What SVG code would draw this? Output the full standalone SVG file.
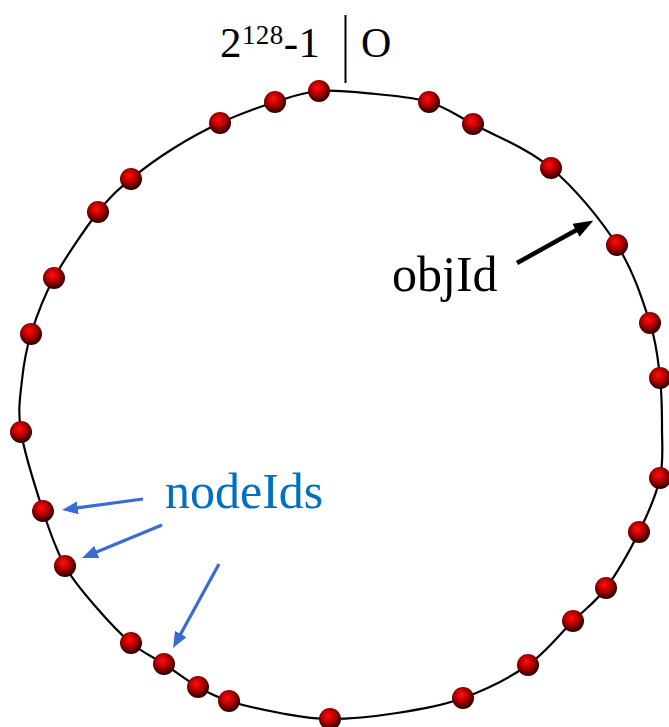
<svg xmlns="http://www.w3.org/2000/svg" width="669" height="727" viewBox="0 0 669 727">
<defs>
<radialGradient id="ballGrad" cx="45%" cy="40%" r="60%" fx="42%" fy="35%">
<stop offset="0" stop-color="#ff1010"/>
<stop offset="0.45" stop-color="#c00000"/>
<stop offset="0.85" stop-color="#500000"/>
<stop offset="1" stop-color="#200000"/>
</radialGradient>
<marker id="headBlue" markerUnits="userSpaceOnUse" markerWidth="16" markerHeight="13" viewBox="0 0 16 13" refX="10" refY="6.5" orient="auto">
<path d="M0,0 L16,6.5 L0,13 z" fill="#3a6ad4"/>
</marker>
<marker id="headBlack" markerUnits="userSpaceOnUse" markerWidth="20" markerHeight="15" viewBox="0 0 20 15" refX="13" refY="7.5" orient="auto">
<path d="M0,0 L20,7.5 L0,15 z" fill="#000"/>
</marker>
</defs>
<style>
.ring{fill:none;stroke:#000;stroke-width:2.2}
.node{fill:url(#ballGrad)}
.lbl{font-family:"Liberation Serif","Times New Roman",serif;fill:#000}
.blue{stroke:#3a6ad4;stroke-width:3.2;fill:none}
.black{stroke:#000;stroke-width:4.5;fill:none}
</style>
<rect width="669" height="727" fill="#fff"/>
<path id="ring" class="ring" d="M319,91 C335.7,89.7 356.7,92.2 375,94 C393.3,95.8 412.7,97 429,102 C445.3,107 452.7,113 473,124 C493.3,135 527,147.8 551,168 C575,188.2 600.5,219.2 617,245 C633.5,270.8 642.8,300.8 650,323 C657.2,345.2 658,360.5 660,378 C662,395.5 662,411.3 662,428 C662,444.7 663.8,460.7 660,478 C656.2,495.3 648,513.7 639,532 C630,550.3 617,573.2 606,588 C595,602.8 586,608.2 573,621 C560,633.8 546.3,652.2 528,665 C509.7,677.8 484.8,690 463,698 C441.2,706 419.2,709.5 397,713 C374.8,716.5 349.5,719 330,719 C310.5,719 296.8,716 280,713 C263.2,710 242.7,705.3 229,701 C215.3,696.7 208.8,693.2 198,687 C187.2,680.8 175.2,671.3 164,664 C152.8,656.7 142.3,652.5 131,643 C119.7,633.5 107,619.8 96,607 C85,594.2 73.8,582 65,566 C56.2,550 50.3,533.5 43,511 C35.7,488.5 24.5,453.8 21,432 C17.5,410.2 20.3,396.3 22,380 C23.7,363.7 25.7,351 31,334 C36.3,317 42.8,298.3 54,278 C65.2,257.7 85.2,228.5 98,212 C110.8,195.5 118.3,189.7 131,179 C143.7,168.3 159.2,157.3 174,148 C188.8,138.7 203.2,130.7 220,123 C236.8,115.3 258.5,107.3 275,102 C291.5,96.7 302.3,92.3 319,91 Z"/>
<g id="connectors">
<line x1="517" y1="263" x2="587.3" y2="224" class="black" marker-end="url(#headBlack)"/>
<line x1="143" y1="499" x2="67.9" y2="509.2" class="blue" marker-end="url(#headBlue)"/>
<line x1="162" y1="525" x2="87.5" y2="555.7" class="blue" marker-end="url(#headBlue)"/>
<line x1="219" y1="564" x2="175.9" y2="642.7" class="blue" marker-end="url(#headBlue)"/>
</g>
<g id="nodes">
<g id="n1"><circle class="node" cx="319" cy="91" r="11"/></g>
<g id="n2"><circle class="node" cx="429" cy="102" r="11"/></g>
<g id="n3"><circle class="node" cx="473" cy="124" r="11"/></g>
<g id="n4"><circle class="node" cx="551" cy="168" r="11"/></g>
<g id="n5"><circle class="node" cx="617" cy="245" r="11"/></g>
<g id="n6"><circle class="node" cx="650" cy="323" r="11"/></g>
<g id="n7"><circle class="node" cx="660" cy="378" r="11"/></g>
<g id="n8"><circle class="node" cx="660" cy="478" r="11"/></g>
<g id="n9"><circle class="node" cx="639" cy="532" r="11"/></g>
<g id="n10"><circle class="node" cx="606" cy="588" r="11"/></g>
<g id="n11"><circle class="node" cx="573" cy="621" r="11"/></g>
<g id="n12"><circle class="node" cx="528" cy="665" r="11"/></g>
<g id="n13"><circle class="node" cx="463" cy="698" r="11"/></g>
<g id="n14"><circle class="node" cx="330" cy="719" r="11"/></g>
<g id="n15"><circle class="node" cx="229" cy="701" r="11"/></g>
<g id="n16"><circle class="node" cx="198" cy="687" r="11"/></g>
<g id="n17"><circle class="node" cx="164" cy="664" r="11"/></g>
<g id="n18"><circle class="node" cx="131" cy="643" r="11"/></g>
<g id="n19"><circle class="node" cx="65" cy="566" r="11"/></g>
<g id="n20"><circle class="node" cx="43" cy="511" r="11"/></g>
<g id="n21"><circle class="node" cx="21" cy="432" r="11"/></g>
<g id="n22"><circle class="node" cx="31" cy="334" r="11"/></g>
<g id="n23"><circle class="node" cx="54" cy="278" r="11"/></g>
<g id="n24"><circle class="node" cx="98" cy="212" r="11"/></g>
<g id="n25"><circle class="node" cx="131" cy="179" r="11"/></g>
<g id="n26"><circle class="node" cx="220" cy="123" r="11"/></g>
<g id="n27"><circle class="node" cx="275" cy="102" r="11"/></g>
</g>
<g id="top-label">
<text class="lbl" x="220" y="57" font-size="43" textLength="100">2<tspan font-size="27" dy="-13">128</tspan><tspan dy="13">-1</tspan></text>
<line x1="345.5" y1="15" x2="345.5" y2="83" stroke="#000" stroke-width="2"/>
<text class="lbl" x="361" y="57" font-size="42">O</text>
</g>
<g id="objId-label"><text class="lbl" x="392" y="291" font-size="50">objId</text></g>
<g id="nodeIds-label"><text class="lbl" x="165" y="508" font-size="50" style="fill:#0070c0">nodeIds</text></g>
</svg>
